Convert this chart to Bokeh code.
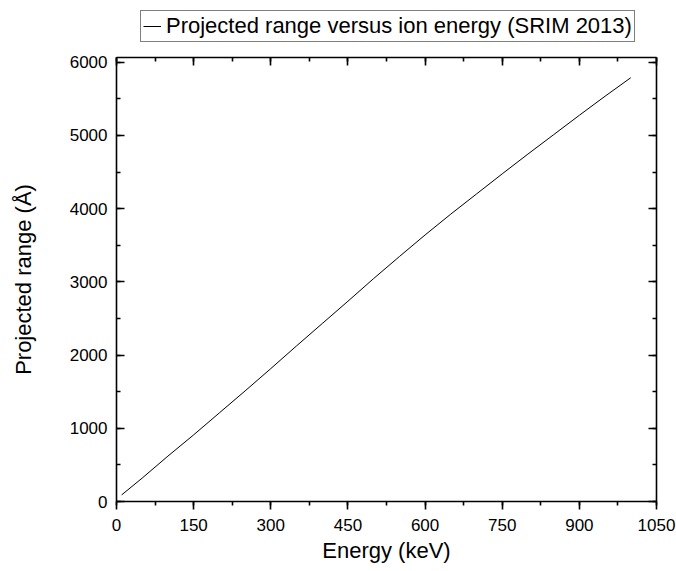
from bokeh.plotting import figure
from bokeh.layouts import column
from bokeh.models import (LinearAxis, SingleIntervalTicker, Range1d, Legend,
                          LegendItem, ColumnDataSource)
from bokeh.embed import file_html
from bokeh.resources import INLINE

# SRIM 2013 projected range table
energy_kev = [10, 50, 100, 150, 200, 250, 300, 350, 400, 450, 500,
              550, 600, 650, 700, 750, 800, 850, 900, 950, 1000]
range_angstrom = [90, 320, 620, 910, 1210, 1510, 1815, 2125, 2430, 2735, 3045,
                  3345, 3640, 3925, 4200, 4475, 4745, 5010, 5275, 5535, 5788]
series_label = "Projected range versus ion energy (SRIM 2013)"

FONT = "Liberation Sans"
LINE_STYLE = dict(line_color="black", line_width=1)

# main plot
p = figure(width=676, height=526, output_backend="svg", toolbar_location=None,
           x_range=Range1d(0, 1050), y_range=Range1d(0, 6064),
           x_axis_type=None, y_axis_type=None)
p.min_border_left = 116
p.min_border_right = 20
p.min_border_top = 12
p.min_border_bottom = 70
p.xgrid.visible = False
p.ygrid.visible = False
p.outline_line_color = None
p.background_fill_color = "white"
p.border_fill_color = "white"

src = ColumnDataSource(dict(x=energy_kev, y=range_angstrom))
p.line("x", "y", source=src, **LINE_STYLE)


def style(ax, labels=True):
    ax.axis_line_color = "black"
    ax.axis_line_width = 1.6
    ax.major_tick_line_color = "black"
    ax.minor_tick_line_color = "black"
    ax.major_tick_line_width = 1.6
    ax.minor_tick_line_width = 1.6
    ax.major_label_text_font = FONT
    ax.major_label_text_font_size = "17px"
    ax.major_label_text_color = "black"
    ax.axis_label_text_font = FONT
    ax.axis_label_text_font_size = "22px"
    ax.axis_label_text_font_style = "normal"
    ax.axis_label_text_color = "black"
    if not labels:
        ax.major_label_text_font_size = "0px"
        ax.major_label_text_alpha = 0
        ax.major_label_standoff = 0


bottom = LinearAxis(ticker=SingleIntervalTicker(interval=150, num_minor_ticks=2),
                    axis_label="Energy (keV)")
style(bottom)
bottom.major_tick_out = 8
bottom.major_tick_in = 0
bottom.minor_tick_out = 4
bottom.minor_tick_in = 0
bottom.major_label_standoff = 9
bottom.axis_label_standoff = 4
p.add_layout(bottom, "below")

left = LinearAxis(ticker=SingleIntervalTicker(interval=1000, num_minor_ticks=2),
                  axis_label="Projected range (Å)")
style(left)
left.major_tick_in = 8
left.major_tick_out = 0
left.minor_tick_in = 4
left.minor_tick_out = 0
left.major_label_standoff = 9
left.axis_label_standoff = 31
p.add_layout(left, "left")

top = LinearAxis(ticker=SingleIntervalTicker(interval=150, num_minor_ticks=2))
style(top, labels=False)
top.major_tick_in = 8
top.major_tick_out = 0
top.minor_tick_in = 4
top.minor_tick_out = 0
p.add_layout(top, "above")

right = LinearAxis(ticker=SingleIntervalTicker(interval=1000, num_minor_ticks=2))
style(right, labels=False)
right.major_tick_in = 8
right.major_tick_out = 0
right.minor_tick_in = 4
right.minor_tick_out = 0
p.add_layout(right, "right")

# legend strip above the plot (its frame lines up with the main plot's frame)
lg = figure(width=676, height=45, output_backend="svg", toolbar_location=None,
            x_range=Range1d(0, 1), y_range=Range1d(0, 1),
            x_axis_type=None, y_axis_type=None)
lg.min_border_left = 0
lg.min_border_right = 0
lg.min_border_top = 0
lg.min_border_bottom = 0
lg.xgrid.visible = False
lg.ygrid.visible = False
lg.outline_line_color = None
lg.border_fill_color = "white"
# key line kept outside the visible range; only its legend swatch shows
key = lg.line([2, 3], [2, 3], **LINE_STYLE)

legend = Legend(items=[LegendItem(label=series_label, renderers=[key])],
                location=(24, 3))
legend.label_text_font = FONT
legend.label_text_font_size = "22px"
legend.label_text_color = "black"
legend.border_line_color = "black"
legend.border_line_width = 1
legend.background_fill_alpha = 1
legend.glyph_width = 18
legend.glyph_height = 20
legend.label_standoff = 5
legend.padding = 2
legend.margin = 0
legend.spacing = 0
legend.label_height = 20
lg.add_layout(legend, "center")

layout = column(lg, p, spacing=0)
open("out.html", "w").write(file_html(layout, INLINE))
